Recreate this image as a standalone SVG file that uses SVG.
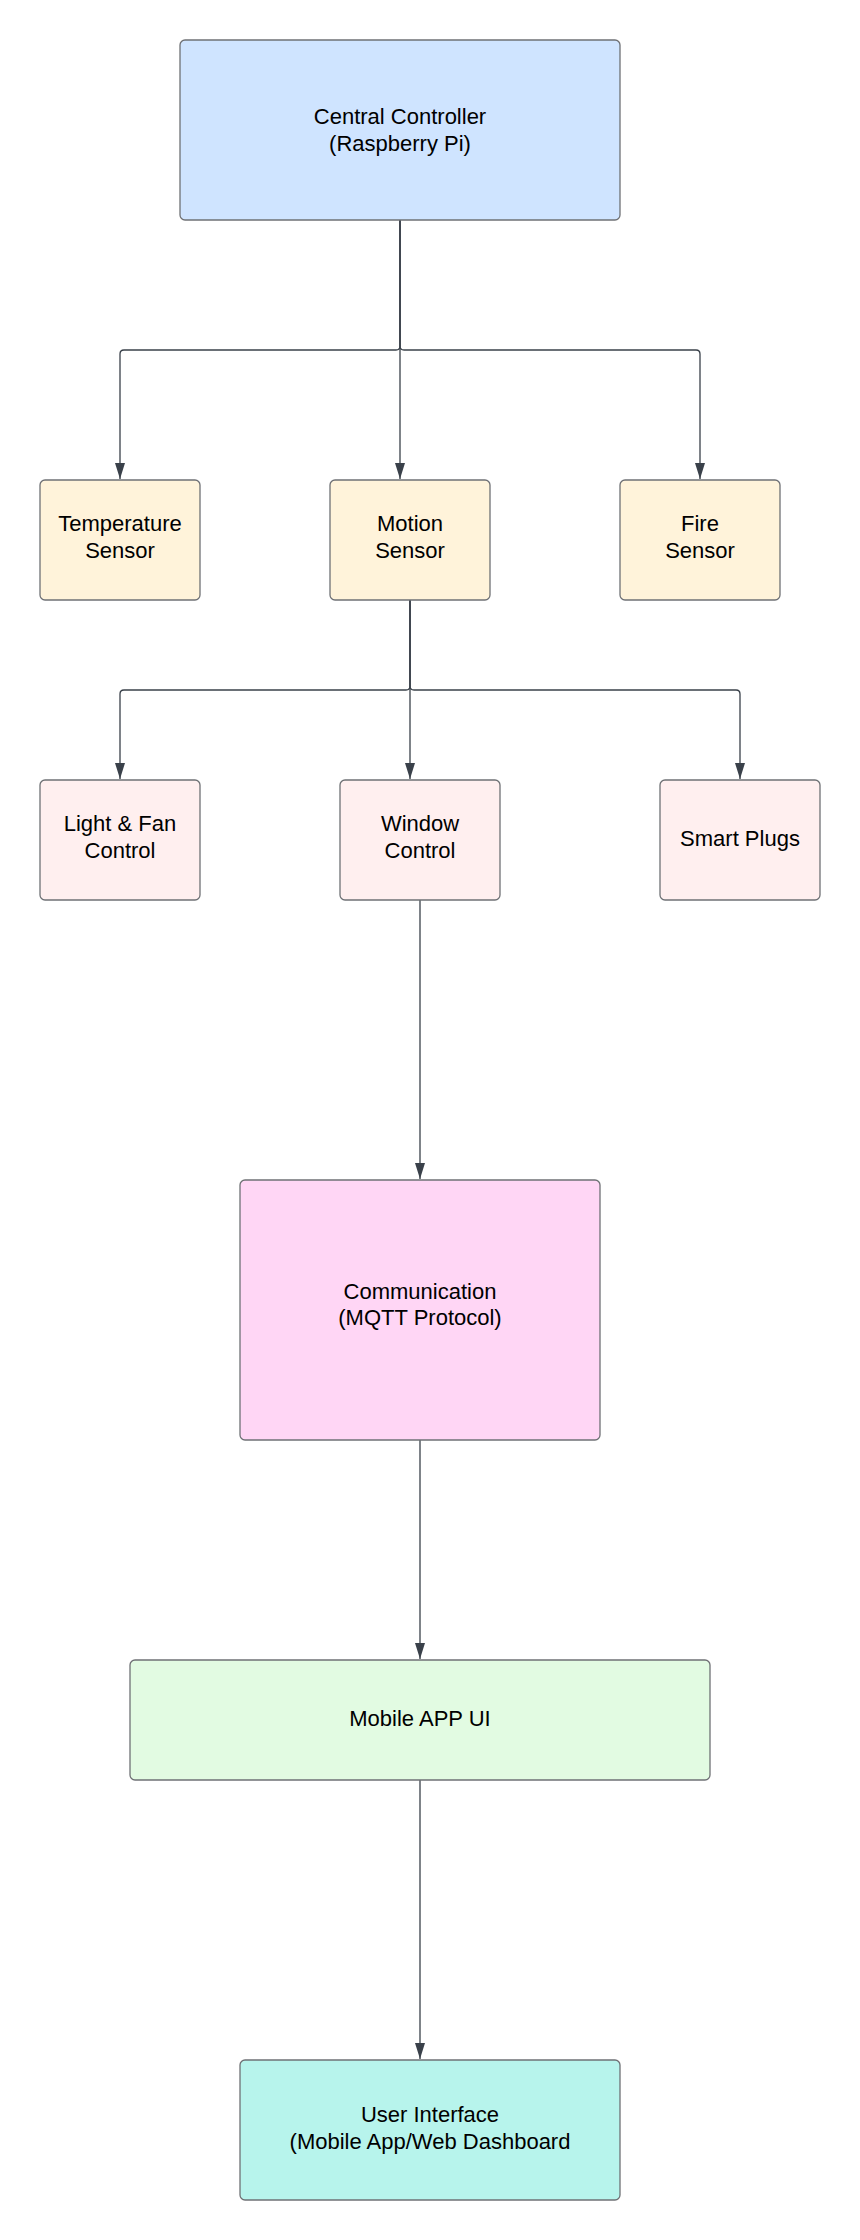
<svg xmlns="http://www.w3.org/2000/svg" width="860" height="2240" viewBox="0 0 860 2240">
<defs>
<marker id="a" viewBox="0 0 16 10" refX="16" refY="5" markerWidth="16" markerHeight="10" markerUnits="userSpaceOnUse" orient="auto">
<path d="M0,0 L16,5 L0,10 Z" fill="#3a414a"/>
</marker>
</defs>
<style>
.box{stroke:#6f7175;stroke-width:1.3}
.t{font-family:"Liberation Sans",Arial,sans-serif;font-size:22px;fill:#000;text-anchor:middle}
.c{fill:none;stroke:#3a414a;stroke-width:1.3;marker-end:url(#a)}
</style>
<rect width="860" height="2240" fill="#ffffff"/>
<g id="connectors">
<path class="c" d="M400,220 L400,346 Q400,350 396,350 L124,350 Q120,350 120,354 L120,479"/>
<path class="c" d="M400,220 L400,479"/>
<path class="c" d="M400,220 L400,346 Q400,350 404,350 L696,350 Q700,350 700,354 L700,479"/>
<path class="c" d="M410,600 L410,686 Q410,690 406,690 L124,690 Q120,690 120,694 L120,779"/>
<path class="c" d="M410,600 L410,779"/>
<path class="c" d="M410,600 L410,686 Q410,690 414,690 L736,690 Q740,690 740,694 L740,779"/>
<path class="c" d="M420,900 L420,1179"/>
<path class="c" d="M420,1440 L420,1659"/>
<path class="c" d="M420,1780 L420,2059"/>
</g>
<g id="central">
<rect class="box" x="180" y="40" width="440" height="180" rx="5" fill="#cfe4ff"/>
<text class="t" x="400" y="124">Central Controller</text>
<text class="t" x="400" y="150.5">(Raspberry Pi)</text>
</g>
<g id="temperature">
<rect class="box" x="40" y="480" width="160" height="120" rx="5" fill="#fff3da"/>
<text class="t" x="120" y="531">Temperature</text>
<text class="t" x="120" y="557.5">Sensor</text>
</g>
<g id="motion">
<rect class="box" x="330" y="480" width="160" height="120" rx="5" fill="#fff3da"/>
<text class="t" x="410" y="531">Motion</text>
<text class="t" x="410" y="557.5">Sensor</text>
</g>
<g id="fire">
<rect class="box" x="620" y="480" width="160" height="120" rx="5" fill="#fff3da"/>
<text class="t" x="700" y="531">Fire</text>
<text class="t" x="700" y="557.5">Sensor</text>
</g>
<g id="lightfan">
<rect class="box" x="40" y="780" width="160" height="120" rx="5" fill="#ffefef"/>
<text class="t" x="120" y="831">Light &amp; Fan</text>
<text class="t" x="120" y="857.5">Control</text>
</g>
<g id="window">
<rect class="box" x="340" y="780" width="160" height="120" rx="5" fill="#ffefef"/>
<text class="t" x="420" y="831">Window</text>
<text class="t" x="420" y="857.5">Control</text>
</g>
<g id="smartplugs">
<rect class="box" x="660" y="780" width="160" height="120" rx="5" fill="#ffefef"/>
<text class="t" x="740" y="846">Smart Plugs</text>
</g>
<g id="communication">
<rect class="box" x="240" y="1180" width="360" height="260" rx="5" fill="#ffd6f5"/>
<text class="t" x="420" y="1298.5">Communication</text>
<text class="t" x="420" y="1325">(MQTT Protocol)</text>
</g>
<g id="mobileapp">
<rect class="box" x="130" y="1660" width="580" height="120" rx="5" fill="#e2fbe2"/>
<text class="t" x="420" y="1726">Mobile APP UI</text>
</g>
<g id="userinterface">
<rect class="box" x="240" y="2060" width="380" height="140" rx="5" fill="#b7f4ec"/>
<text class="t" x="430" y="2121.5">User Interface</text>
<text class="t" x="430" y="2148.5">(Mobile App/Web Dashboard</text>
</g>
</svg>
